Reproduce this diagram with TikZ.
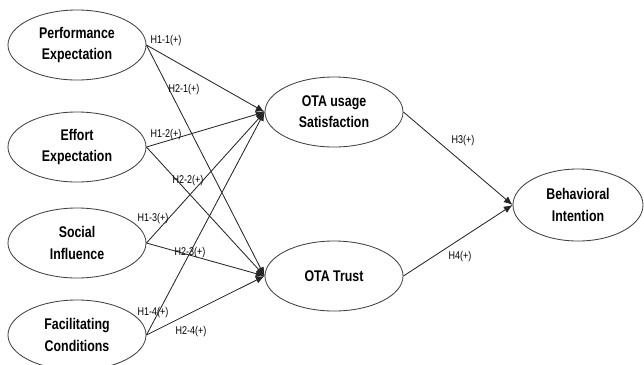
\documentclass[tikz,border=0pt]{standalone}
\usepackage{fontspec}
\setmainfont[FakeStretch=0.8]{Liberation Sans}
\usepackage{tikz}
\usetikzlibrary{shapes.geometric,arrows.meta,positioning,calc}
\tikzset{
  construct/.style={ellipse, draw=black!75, semithick, fill=white,
                    minimum width=3.45cm, minimum height=1.75cm, inner sep=0pt,
                    align=center, font=\bfseries\fontsize{11}{15}\selectfont},
  outcome/.style  ={construct, minimum width=3.25cm, minimum height=1.8cm},
  link/.style     ={-{Latex[length=2.2mm,width=1.8mm]}, draw=black!85, semithick},
  hyp/.style      ={font=\fontsize{8}{9}\selectfont, inner sep=0.5pt}
}
\begin{document}
\begin{tikzpicture}[x=0.025cm,y=-0.025cm]
  \useasboundingbox (0,0) rectangle (644,364);
  % ---------------- constructs ----------------
  \node[construct] (pe)  at (77,45)   {Performance\\Expectation};
  \node[construct] (ee)  at (77,147)  {Effort\\Expectation};
  \node[construct] (si)  at (77,243)  {Social\\Influence};
  \node[construct] (fc)  at (77,335)  {Facilitating\\Conditions};
  \node[construct] (sat) at (334,112) {OTA usage\\Satisfaction};
  \node[construct] (tru) at (334,276) {OTA Trust};
  \node[outcome]   (bi)  at (578,205) {Behavioral\\Intention};

  % ---------------- paths ----------------
  \foreach \src in {pe,ee,si,fc}{
    \draw[link] (\src.east) -- (sat.west);
    \draw[link] (\src.east) -- (tru.west);
  }
  \draw[link] (sat.east) -- (bi.west);
  \draw[link] (tru.east) -- (bi.west);

  % ---------------- hypothesis labels ----------------
  \node[hyp] (h11) at (166,41)  {H1-1(+)};
  \node[hyp] (h21) at (184,90)  {H2-1(+)};
  \node[hyp] (h12) at (166,135) {H1-2(+)};
  \node[hyp] (h22) at (188,181) {H2-2(+)};
  \node[hyp] (h13) at (153,219) {H1-3(+)};
  \node[hyp] (h23) at (190,253) {H2-3(+)};
  \node[hyp] (h14) at (153,313) {H1-4(+)};
  \node[hyp] (h24) at (191,332) {H2-4(+)};
  \node[hyp] (h3)  at (463,141) {H3(+)};
  \node[hyp] (h4)  at (460,257) {H4(+)};
\end{tikzpicture}
\end{document}
